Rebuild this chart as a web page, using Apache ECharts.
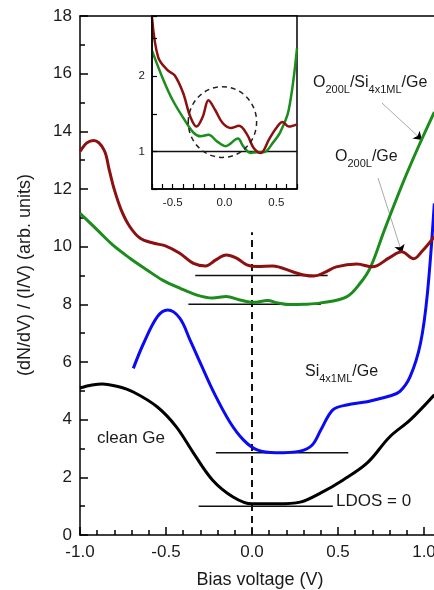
<!DOCTYPE html>
<html>
<head>
<meta charset="utf-8">
<title>STS spectra</title>
<script src="https://cdn.jsdelivr.net/npm/echarts@6/dist/echarts.min.js"></script>
<style>
html, body { margin: 0; padding: 0; background: #fff; }
#main { width: 434px; height: 590px; }
</style>
</head>
<body>
<div id="main"></div>
<script>
// main panel: [bias (V), (dN/dV)/(I/V)], curves are offset vertically
var cleanGe = [[-1.0,5.1],[-0.93,5.2],[-0.87,5.24],[-0.78,5.15],[-0.69,4.96],[-0.55,4.44],[-0.44,3.75],
  [-0.34,2.84],[-0.23,1.91],[-0.11,1.32],[0.0,1.08],[0.15,1.08],[0.28,1.14],[0.40,1.46],[0.53,1.91],
  [0.67,2.5],[0.80,3.4],[0.92,3.99],[1.06,4.86]];
var siGe = [[-0.69,5.78],[-0.63,6.65],[-0.55,7.57],[-0.49,7.8],[-0.42,7.52],[-0.36,6.76],[-0.30,5.96],
  [-0.22,4.92],[-0.13,3.93],[-0.05,3.3],[0.03,2.95],[0.14,2.85],[0.28,2.91],[0.35,3.12],[0.40,3.64],
  [0.47,4.34],[0.55,4.51],[0.67,4.62],[0.73,4.71],[0.80,4.82],[0.86,4.98],[0.92,5.5],[0.98,6.66],
  [1.02,8.39],[1.06,11.5]];
var oSiGe = [[-1.0,11.16],[-0.90,10.58],[-0.81,10.06],[-0.71,9.6],[-0.61,9.19],[-0.52,8.84],[-0.42,8.56],
  [-0.32,8.32],[-0.23,8.22],[-0.15,8.27],[-0.07,8.15],[0.01,8.07],[0.09,8.13],[0.15,8.05],[0.22,7.99],
  [0.30,8.0],[0.40,8.05],[0.55,8.26],[0.63,8.74],[0.69,9.3],[0.77,10.58],[0.88,12.25],[0.97,13.5],[1.06,14.67]];
var oGe = [[-1.0,13.3],[-0.96,13.6],[-0.92,13.68],[-0.86,13.35],[-0.83,12.66],[-0.80,11.97],[-0.76,11.27],
  [-0.71,10.69],[-0.65,10.29],[-0.57,10.12],[-0.50,10.02],[-0.42,9.77],[-0.34,9.42],[-0.27,9.33],
  [-0.21,9.54],[-0.15,9.71],[-0.09,9.6],[-0.03,9.37],[0.03,9.31],[0.12,9.33],[0.24,9.12],[0.30,9.02],
  [0.36,8.98],[0.42,9.1],[0.49,9.3],[0.61,9.4],[0.70,9.3],[0.80,9.62],[0.87,9.82],[0.94,9.58],
  [0.99,9.85],[1.06,10.35]];

// LDOS = 0 levels of each curve: [from V, to V, level]
var zeroLevels = [[-0.31,0.47,1.0],[-0.21,0.56,2.85],[-0.37,0.40,8.0],[-0.33,0.44,9.0]];
var fermiLine = [[0,0],[0,10.5]];

// inset: zoom on the two oxidised curves
var insetOGe = [[-0.70,2.78],[-0.64,2.25],[-0.55,2.08],[-0.48,2.01],[-0.40,1.78],[-0.33,1.46],[-0.27,1.33],
  [-0.21,1.46],[-0.155,1.68],[-0.09,1.55],[-0.02,1.38],[0.06,1.31],[0.14,1.34],[0.22,1.22],[0.28,1.05],
  [0.35,0.98],[0.43,1.16],[0.50,1.31],[0.56,1.39],[0.62,1.33],[0.70,1.36]];
var insetOSiGe = [[-0.70,2.34],[-0.59,1.95],[-0.50,1.68],[-0.40,1.45],[-0.30,1.25],[-0.23,1.2],[-0.155,1.22],
  [-0.07,1.13],[0.01,1.07],[0.13,1.17],[0.18,1.07],[0.25,0.98],[0.32,0.99],[0.38,0.99],[0.47,1.12],
  [0.54,1.26],[0.62,1.55],[0.70,2.37]];
var insetLevel = [[-0.7,1],[0.7,1]];
var insetCircle = [-0.02,1.39,0.33,0.47]; // centre x, y, radius x, radius y

// annotation arrows [from, to]
var arrows = [[[0.756,14.98],[0.988,13.70]],[[0.733,12.38],[0.872,9.78]]];

var FONT = 'Liberation Sans, Arial, sans-serif';
var TXT = '#1a1a1a';

function halfStep(v) {
  if (Math.abs(v) < 1e-9) return '0.0';
  return Math.abs(v * 2 - Math.round(v * 2)) < 1e-6 ? v.toFixed(1) : '';
}

var myChart = echarts.init(document.getElementById('main'));

function curve(data, color, width, xi, yi, z) {
  return {
    type: 'line', data: data, smooth: 0.35, symbol: 'none', silent: true,
    xAxisIndex: xi, yAxisIndex: yi, z: z || 2,
    lineStyle: { color: color, width: width }
  };
}
function straight(data, color, width, xi, yi, dash, z) {
  return {
    type: 'line', data: data, symbol: 'none', silent: true,
    xAxisIndex: xi, yAxisIndex: yi, z: z || 2,
    lineStyle: { color: color, width: width, type: dash || 'solid' }
  };
}

var series = [];
zeroLevels.forEach(function (l) {
  series.push(straight([[l[0], l[2]], [l[1], l[2]]], '#111', 1.5, 0, 0));
});
series.push(straight(fermiLine, '#111', 2, 0, 0, [7, 5]));
series.push(curve(cleanGe, '#000000', 3, 0, 0));
series.push(curve(siGe, '#0a0af5', 3, 0, 0));
series.push(curve(oSiGe, '#1c8c1c', 3, 0, 0));
series.push(curve(oGe, '#8c1010', 3, 0, 0));

// arrows: thin grey shaft plus black head
series.push({
  type: 'lines', coordinateSystem: 'cartesian2d', xAxisIndex: 0, yAxisIndex: 0, silent: true,
  data: arrows.map(function (a) { return { coords: a }; }),
  lineStyle: { color: '#aaa', width: 1, opacity: 1 }, symbol: 'none'
});
series.push({
  type: 'lines', coordinateSystem: 'cartesian2d', xAxisIndex: 0, yAxisIndex: 0, silent: true,
  data: arrows.map(function (a) {
    var f = a[0], t = a[1];
    return { coords: [[t[0] - (t[0] - f[0]) * 0.05, t[1] - (t[1] - f[1]) * 0.05], t] };
  }),
  lineStyle: { color: '#000', width: 1, opacity: 1 }, symbol: ['none', 'arrow'], symbolSize: 8
});

series.push(straight(insetLevel, '#111', 1.5, 2, 1, 'solid', 10));
series.push(curve(insetOSiGe, '#1c8c1c', 2.5, 2, 1, 10));
series.push(curve(insetOGe, '#8c1010', 2.5, 2, 1, 10));
series.push({
  type: 'custom', coordinateSystem: 'cartesian2d', xAxisIndex: 2, yAxisIndex: 1, silent: true,
  clip: false, z: 11, data: [insetCircle],
  renderItem: function (params, api) {
    var c = api.coord([api.value(0), api.value(1)]);
    var s = api.size([api.value(2), api.value(3)]);
    return {
      type: 'ellipse',
      shape: { cx: c[0], cy: c[1], rx: s[0], ry: s[1] },
      style: { fill: 'none', stroke: '#222', lineWidth: 1.5, lineDash: [5, 4] }
    };
  }
});

var axisLine = { show: true, onZero: false, lineStyle: { color: '#000', width: 1.5 } };

var rich = {
  m: { fontSize: 16, fontFamily: FONT, fill: TXT, lineHeight: 24 },
  s: { fontSize: 11, fontFamily: FONT, fill: TXT, lineHeight: 11, verticalAlign: 'bottom' }
};

var option = {
  animation: false,
  backgroundColor: '#fff',
  textStyle: { fontFamily: FONT },
  grid: [
    { left: 80, top: 16, width: 430, height: 519, outerBoundsMode: 'none' },
    { left: 152, top: 16, width: 145, height: 173, outerBoundsMode: 'none', z: 5,
      show: true, backgroundColor: '#fff', borderColor: '#000', borderWidth: 1.5 }
  ],
  xAxis: [
    { type: 'value', gridIndex: 0, min: -1, max: 1.5, interval: 0.5, position: 'bottom',
      axisLine: axisLine, splitLine: { show: false },
      axisTick: { inside: true, length: 8, lineStyle: { color: '#000', width: 1.5 } },
      minorTick: { show: true, splitNumber: 5, length: 5, lineStyle: { color: '#000', width: 1.5 } },
      axisLabel: { formatter: halfStep, fontSize: 17, color: TXT, margin: 9, fontFamily: FONT } },
    { type: 'value', gridIndex: 0, min: -1, max: 1.5, position: 'top',
      axisLine: axisLine, axisTick: { show: false }, axisLabel: { show: false }, splitLine: { show: false } },
    { type: 'value', gridIndex: 1, min: -0.7, max: 0.7, interval: 0.1, position: 'bottom', z: 12,
      axisLine: axisLine, splitLine: { show: false },
      axisTick: { inside: true, length: 5, lineStyle: { color: '#000', width: 1.2 } },
      axisLabel: { formatter: halfStep, fontSize: 11.5, color: TXT, margin: 8, fontFamily: FONT } }
  ],
  yAxis: [
    { type: 'value', gridIndex: 0, min: 0, max: 18, interval: 2, position: 'left',
      axisLine: axisLine, splitLine: { show: false },
      axisTick: { inside: true, length: 8, lineStyle: { color: '#000', width: 1.5 } },
      minorTick: { show: true, splitNumber: 2, length: 5, lineStyle: { color: '#000', width: 1.5 } },
      axisLabel: { fontSize: 17, color: TXT, margin: 8, fontFamily: FONT } },
    { type: 'value', gridIndex: 1, min: 0.5, max: 2.8, interval: 0.5, position: 'left', z: 12,
      axisLine: axisLine, splitLine: { show: false },
      axisTick: { inside: true, length: 5, lineStyle: { color: '#000', width: 1.2 } },
      axisLabel: { fontSize: 11.5, color: TXT, margin: 7, fontFamily: FONT,
        formatter: function (v) { return Math.abs(v - Math.round(v)) < 1e-6 ? String(Math.round(v)) : ''; } } }
  ],
  graphic: [
    { type: 'text', x: 260, y: 580, silent: true,
      style: { text: 'Bias voltage (V)', fontSize: 18, fontFamily: FONT, fill: TXT, align: 'center', verticalAlign: 'middle' } },
    { type: 'text', x: 25, y: 275, rotation: Math.PI / 2, silent: true,
      style: { text: '(dN/dV) / (I/V) (arb. units)', fontSize: 18, fontFamily: FONT, fill: TXT, align: 'center', verticalAlign: 'middle' } },
    { type: 'text', x: 313, y: 83, silent: true,
      style: { text: '{m|O}{s|200L}{m|/Si}{s|4x1ML}{m|/Ge}', rich: rich, verticalAlign: 'middle' } },
    { type: 'text', x: 335, y: 157, silent: true,
      style: { text: '{m|O}{s|200L}{m|/Ge}', rich: rich, verticalAlign: 'middle' } },
    { type: 'text', x: 305, y: 372, silent: true,
      style: { text: '{m|Si}{s|4x1ML}{m|/Ge}', rich: rich, verticalAlign: 'middle' } },
    { type: 'text', x: 97, y: 438, silent: true,
      style: { text: 'clean Ge', fontSize: 17, fontFamily: FONT, fill: TXT, verticalAlign: 'middle' } },
    { type: 'text', x: 336, y: 501, silent: true,
      style: { text: 'LDOS = 0', fontSize: 17, fontFamily: FONT, fill: TXT, verticalAlign: 'middle' } }
  ],
  series: series
};

myChart.setOption(option);
</script>
</body>
</html>
